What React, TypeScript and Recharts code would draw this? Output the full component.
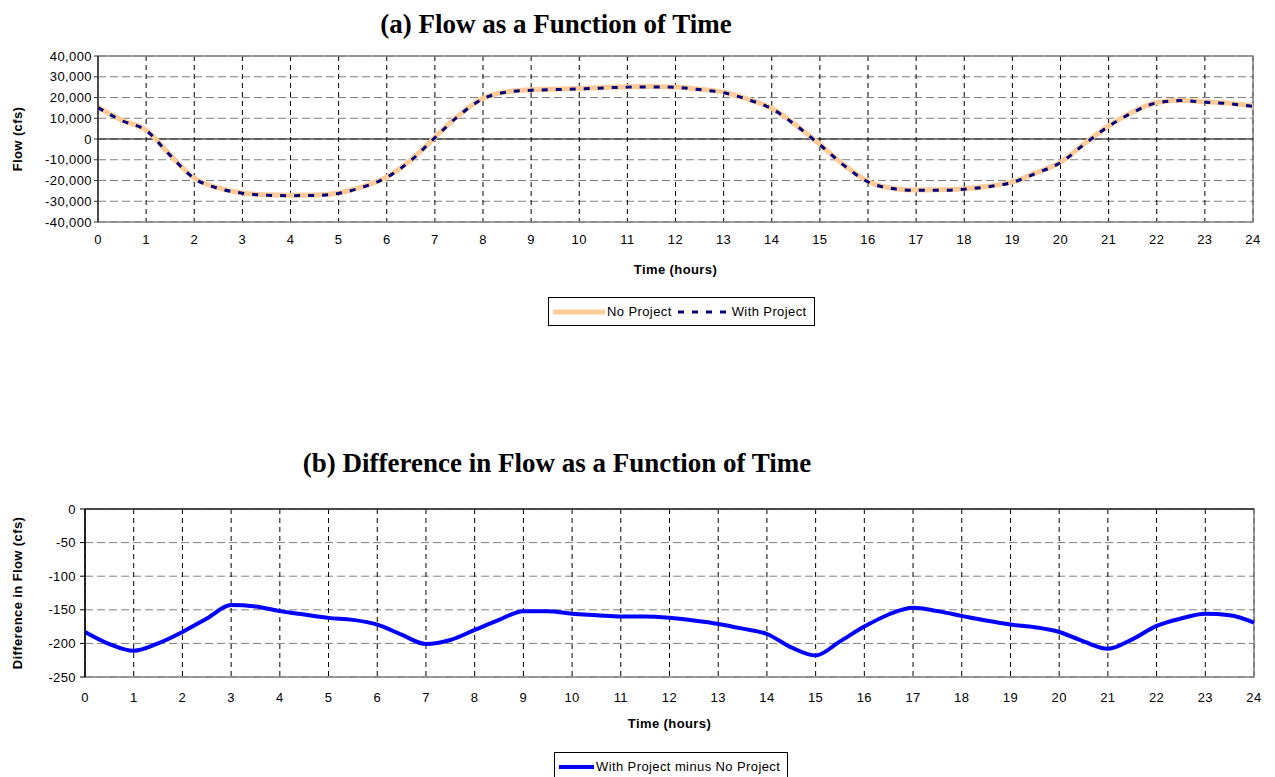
import React from "react";
import {
  LineChart,
  Line,
  XAxis,
  YAxis,
  CartesianGrid,
  ReferenceLine,
  ReferenceArea,
  Legend,
} from "recharts";

// time axis, half-hour steps
const HOURS = [
  0, 0.5, 1, 1.5, 2, 2.5, 3, 3.5, 4, 4.5, 5, 5.5, 6, 6.5, 7, 7.5, 8, 8.5, 9,
  9.5, 10, 10.5, 11, 11.5, 12, 12.5, 13, 13.5, 14, 14.5, 15, 15.5, 16, 16.5,
  17, 17.5, 18, 18.5, 19, 19.5, 20, 20.5, 21, 21.5, 22, 22.5, 23, 23.5, 24,
];

const NO_PROJECT = [
  15300, 9000, 4300, -7700, -18800, -23600, -26000, -26900, -27100, -27000,
  -26000, -23000, -18300, -10200, 800, 11500, 19600, 22800, 23700, 24000,
  24300, 24800, 25200, 25300, 25100, 24000, 22500, 19200, 14800, 6800, -2600,
  -12500, -20500, -23700, -24600, -24500, -24000, -22800, -20700, -16200,
  -11200, -2200, 6300, 13000, 17600, 18700, 17900, 17200, 15900,
];

const WITH_PROJECT = [
  15100, 8800, 4100, -7900, -19000, -23800, -26100, -27100, -27300, -27200,
  -26200, -23200, -18500, -10400, 600, 11300, 19400, 22600, 23500, 23800,
  24100, 24600, 25000, 25100, 24900, 23800, 22300, 19000, 14600, 6600, -2800,
  -12700, -20700, -23900, -24700, -24700, -24200, -23000, -20900, -16400,
  -11400, -2400, 6100, 12800, 17400, 18500, 17700, 17000, 15700,
];

const DIFFERENCE = [
  -183, -201, -211, -200, -183, -163, -143, -145, -152, -157, -162, -165,
  -172, -187, -201, -195, -180, -165, -152, -152, -156, -158, -160, -160,
  -162, -166, -171, -178, -186, -206, -218, -197, -175, -157, -147, -152,
  -159, -166, -172, -176, -183, -197, -208, -194, -174, -163, -156, -158,
  -169,
];

const HOUR_TICKS = [
  0, 1, 2, 3, 4, 5, 6, 7, 8, 9, 10, 11, 12, 13, 14, 15, 16, 17, 18, 19, 20,
  21, 22, 23, 24,
];
const FLOW_TICKS = [-40000, -30000, -20000, -10000, 0, 10000, 20000, 30000, 40000];
const DIFF_TICKS = [-250, -200, -150, -100, -50, 0];

const flowData = HOURS.map((h, i) => ({
  hour: h,
  noProject: NO_PROJECT[i],
  withProject: WITH_PROJECT[i],
}));
const diffData = HOURS.map((h, i) => ({ hour: h, diff: DIFFERENCE[i] }));

const FONT = "'Liberation Sans', Arial, sans-serif";
const SERIF = "'Liberation Serif', 'Times New Roman', serif";
const PEACH = "#FFCC99";
const NAVY = "#000080";
const BLUE = "#0000FF";
const GRID_GRAY = "#808080";

const tickStyle = { fontSize: 13, fontFamily: FONT, fill: "#000", letterSpacing: 0.4 };
const titleStyle = {
  fontSize: 13,
  fontFamily: FONT,
  fontWeight: 700,
  fill: "#000",
  letterSpacing: 0.4,
};

const chartTitle = (center: number, top: number): React.CSSProperties => ({
  position: "absolute",
  left: center,
  top,
  transform: "translateX(-50%)",
  fontFamily: SERIF,
  fontWeight: 700,
  fontSize: 27,
  lineHeight: "30px",
  whiteSpace: "nowrap",
});

function makeLegend(sampleWidth: number) {
  return function BoxLegend(props: any) {
    const items = props.payload || [];
    return (
      <div
        style={{
          display: "inline-flex",
          alignItems: "center",
          border: "1px solid #000",
          background: "#fff",
          padding: "6px 7px 6px 4px",
          fontFamily: FONT,
          fontSize: 13,
          letterSpacing: 0.4,
          lineHeight: "15px",
          color: "#000",
          whiteSpace: "nowrap",
        }}
      >
        {items.map((entry: any, i: number) => {
          const p = entry.payload || {};
          return (
            <span
              key={`leg-${i}`}
              style={{ display: "inline-flex", alignItems: "center", marginLeft: i ? 6 : 0 }}
            >
              <svg width={sampleWidth} height={10} style={{ marginRight: 2 }}>
                <line
                  x1={0}
                  y1={5}
                  x2={sampleWidth}
                  y2={5}
                  stroke={entry.color}
                  strokeWidth={p.strokeWidth || 3}
                  strokeDasharray={p.strokeDasharray}
                />
              </svg>
              <span>{entry.value}</span>
            </span>
          );
        })}
      </div>
    );
  };
}

const FlowLegend = makeLegend(52);
const DiffLegend = makeLegend(35);

export default function App() {
  return (
    <div
      style={{
        position: "absolute",
        left: 0,
        top: 0,
        width: 1275,
        height: 777,
        overflow: "hidden",
        background: "#fff",
      }}
    >
      <div style={chartTitle(556, 9)}>(a) Flow as a Function of Time</div>

      <div style={{ position: "absolute", left: 0, top: 0 }}>
        <LineChart
          width={1275}
          height={340}
          data={flowData}
          margin={{ top: 56, right: 22, bottom: 14, left: 8 }}
        >
          <CartesianGrid
            vertical={false}
            stroke={GRID_GRAY}
            strokeDasharray="8 4"
          />
          <CartesianGrid horizontal={false} stroke="#000" strokeDasharray="5 4" />
          <ReferenceArea
            x1={0}
            x2={24}
            y1={-40000}
            y2={40000}
            fill="none"
            stroke={GRID_GRAY}
            strokeWidth={1.5}
            ifOverflow="visible"
          />
          <ReferenceLine y={0} stroke="#000" strokeWidth={1.2} />
          <XAxis
            dataKey="hour"
            type="number"
            domain={[0, 24]}
            ticks={HOUR_TICKS}
            interval={0}
            height={75}
            axisLine={false}
            tickLine={false}
            tickSize={6}
            tickMargin={7}
            tick={tickStyle}
            label={{
              value: "Time (hours)",
              position: "insideTop",
              offset: 43,
              style: titleStyle,
            }}
          />
          <YAxis
            type="number"
            domain={[-40000, 40000]}
            ticks={FLOW_TICKS}
            interval={0}
            width={90}
            axisLine={{ stroke: "#333", strokeWidth: 1.5 }}
            tickLine={{ stroke: "#333" }}
            tickSize={4}
            tickMargin={2}
            tick={tickStyle}
            tickFormatter={(v: number) => v.toLocaleString("en-US")}
            label={{
              value: "Flow (cfs)",
              angle: -90,
              position: "insideLeft",
              offset: 9,
              style: { ...titleStyle, textAnchor: "middle" },
            }}
          />
          <Legend
            verticalAlign="bottom"
            wrapperStyle={{ left: 548, width: "auto" }}
            content={FlowLegend}
          />
          <Line
            type="monotone"
            dataKey="noProject"
            name="No Project"
            stroke={PEACH}
            strokeWidth={5}
            dot={false}
            isAnimationActive={false}
          />
          <Line
            type="monotone"
            dataKey="withProject"
            name="With Project"
            stroke={NAVY}
            strokeWidth={3}
            strokeDasharray="6 8"
            dot={false}
            isAnimationActive={false}
          />
        </LineChart>
      </div>

      <div style={chartTitle(557, 448)}>(b) Difference in Flow as a Function of Time</div>

      <div style={{ position: "absolute", left: 0, top: 440 }}>
        <LineChart
          width={1275}
          height={345}
          data={diffData}
          margin={{ top: 69, right: 21, bottom: 4, left: 8 }}
        >
          <CartesianGrid
            vertical={false}
            stroke={GRID_GRAY}
            strokeDasharray="8 4"
          />
          <CartesianGrid horizontal={false} stroke="#000" strokeDasharray="5 4" />
          <ReferenceArea
            x1={0}
            x2={24}
            y1={-250}
            y2={0}
            fill="none"
            stroke={GRID_GRAY}
            strokeWidth={1.5}
            ifOverflow="visible"
          />
          <ReferenceLine y={0} stroke="#000" strokeWidth={1.2} />
          <XAxis
            dataKey="hour"
            type="number"
            domain={[0, 24]}
            ticks={HOUR_TICKS}
            interval={0}
            height={75}
            axisLine={false}
            tickLine={false}
            tickSize={6}
            tickMargin={10}
            tick={tickStyle}
            label={{
              value: "Time (hours)",
              position: "insideTop",
              offset: 42,
              style: titleStyle,
            }}
          />
          <YAxis
            type="number"
            domain={[-250, 0]}
            ticks={DIFF_TICKS}
            interval={0}
            width={77}
            axisLine={{ stroke: "#000", strokeWidth: 1.5 }}
            tickLine={{ stroke: "#000" }}
            tickSize={5}
            tickMargin={4}
            tick={tickStyle}
            label={{
              value: "Difference in Flow (cfs)",
              angle: -90,
              position: "insideLeft",
              offset: 9,
              style: { ...titleStyle, textAnchor: "middle" },
            }}
          />
          <Legend
            verticalAlign="bottom"
            wrapperStyle={{ left: 554, width: "auto" }}
            content={DiffLegend}
          />
          <Line
            type="monotone"
            dataKey="diff"
            name="With Project minus No Project"
            stroke={BLUE}
            strokeWidth={4}
            dot={false}
            isAnimationActive={false}
          />
        </LineChart>
      </div>
    </div>
  );
}
